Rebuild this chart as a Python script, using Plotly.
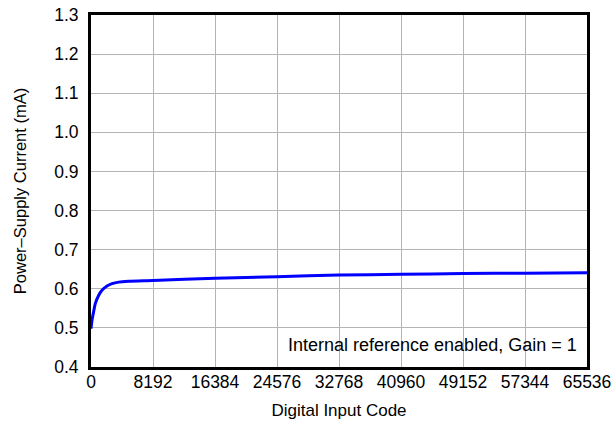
import plotly.graph_objects as go

codes = [0, 150, 344, 568, 1004, 1453, 2114, 2775, 3647, 4968, 8192, 16384, 24576, 32768, 40960, 49152, 57344, 65536]
current_ma = [0.498, 0.522, 0.541, 0.562, 0.583, 0.596, 0.607, 0.613, 0.617, 0.619, 0.621, 0.627, 0.631, 0.635, 0.637, 0.639, 0.640, 0.641]
x_ticks = [0, 8192, 16384, 24576, 32768, 40960, 49152, 57344, 65536]
y_ticks = [0.4, 0.5, 0.6, 0.7, 0.8, 0.9, 1.0, 1.1, 1.2, 1.3]
y_tick_text = ["%.1f" % v for v in y_ticks]
note_text = "Internal reference enabled, Gain = 1"

fig = go.Figure()
fig.add_trace(go.Scatter(x=codes, y=current_ma, mode="lines",
                         line=dict(color="#0000ff", width=3, shape="spline", smoothing=0.6),
                         showlegend=False, hoverinfo="skip"))

FAM = "Liberation Sans, Arial, sans-serif"

fig.update_layout(
    width=614, height=422,
    margin=dict(l=91, r=27, t=15, b=55),
    paper_bgcolor="white", plot_bgcolor="white",
    font=dict(family=FAM, size=17, color="#000000"),
    xaxis=dict(range=[0, 65536], tickvals=x_ticks, ticktext=[str(v) for v in x_ticks],
               showgrid=True, gridcolor="#b4b4b4", gridwidth=1,
               showline=True, linecolor="black", linewidth=3, mirror=True,
               ticks="", zeroline=False, automargin=False, ticklabelstandoff=-3,
               title=dict(text="Digital Input Code", font=dict(size=17), standoff=14),
               tickfont=dict(size=17.5)),
    yaxis=dict(range=[0.4, 1.3], tickvals=y_ticks, ticktext=y_tick_text,
               showgrid=True, gridcolor="#b4b4b4", gridwidth=1,
               showline=True, linecolor="black", linewidth=3, mirror=True,
               ticks="", zeroline=False, automargin=False, ticklabelstandoff=6,
               title=dict(text="Power\u2013Supply Current (mA)", font=dict(size=16.5), standoff=24),
               tickfont=dict(size=17.5)),
    shapes=[dict(type="rect", xref="paper", yref="paper",
                 x0=0.357, x1=1.0, y0=0.0, y1=0.125,
                 fillcolor="white", line=dict(width=0), layer="between")],
    annotations=[dict(text=note_text, xref="paper", yref="paper",
                      x=0.984, y=0.062, xanchor="right", yanchor="middle",
                      showarrow=False, font=dict(size=18, color="black"))],
)

fig.write_html("out.html", config={"displayModeBar": False},
               post_script="document.body.style.margin='0';document.body.style.padding='0';")
